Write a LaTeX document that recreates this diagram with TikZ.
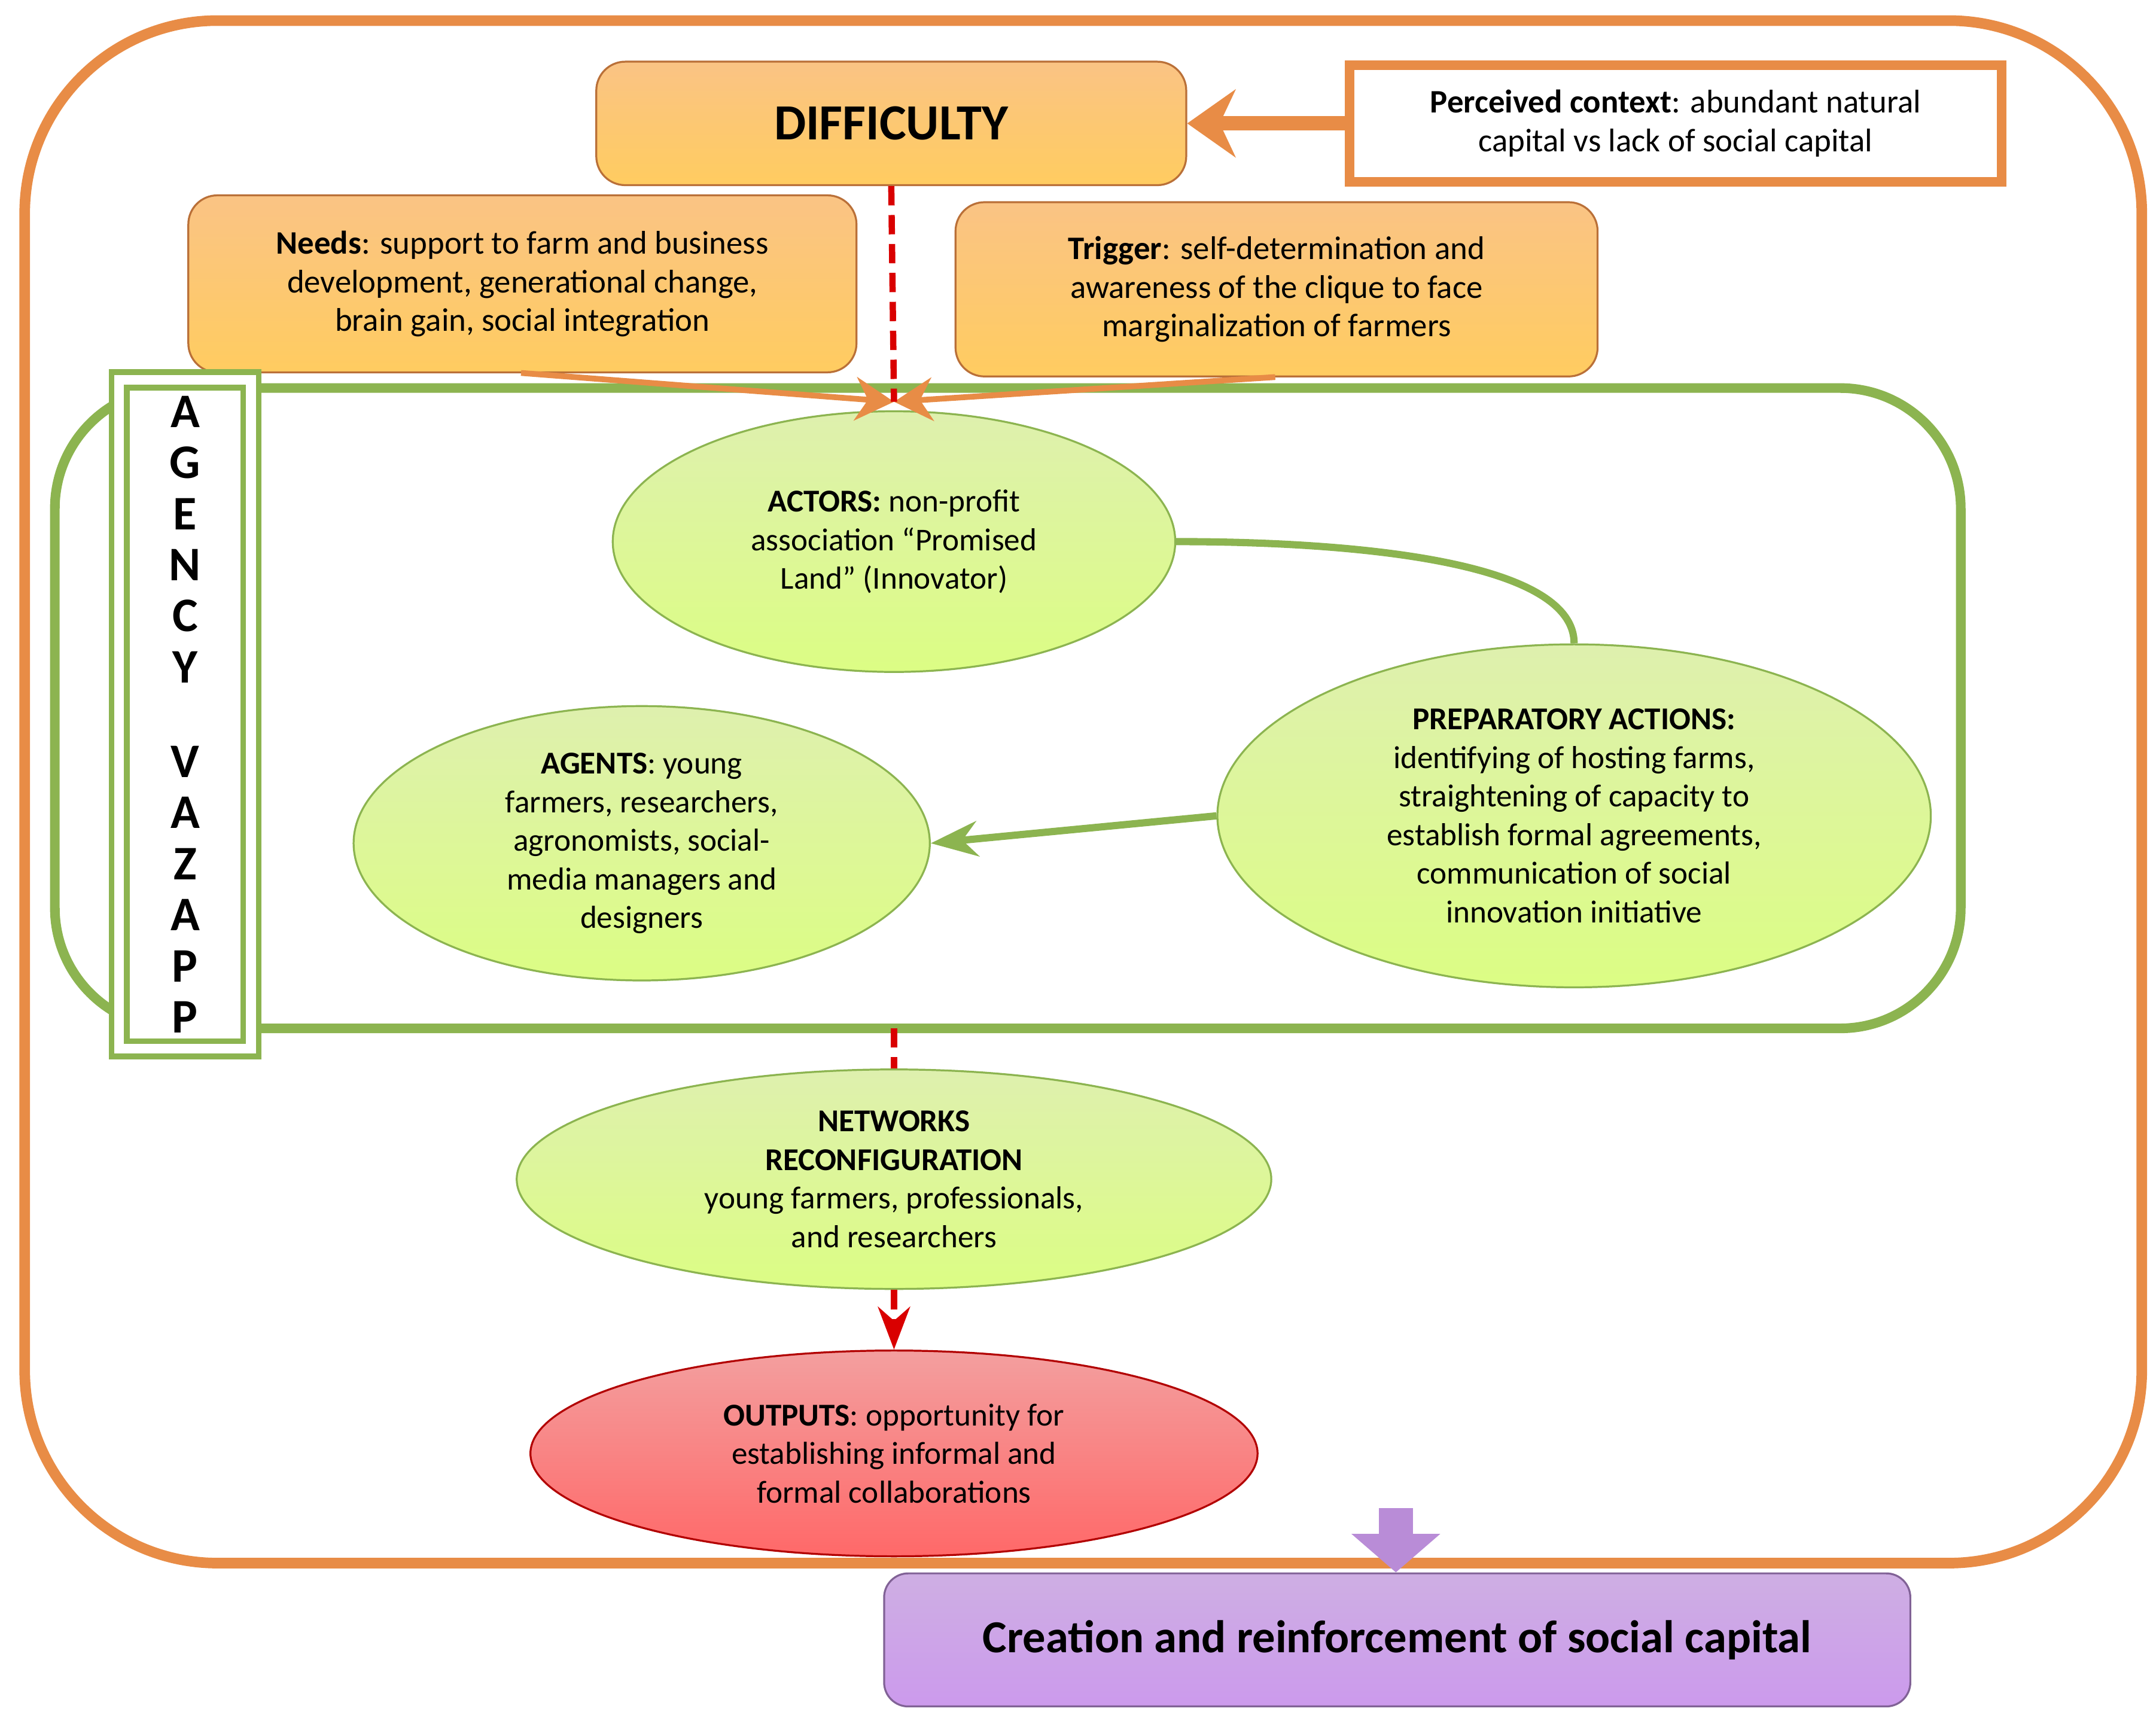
\documentclass[tikz,border=0pt]{standalone}
\usepackage{fontspec}
\setmainfont{Carlito}
\usepackage{xcolor}
\usetikzlibrary{shapes.geometric, arrows.meta, positioning, calc}
\definecolor{orfr}{RGB}{232,140,70}
\definecolor{orbg}{RGB}{248,170,80}
\definecolor{grfr}{RGB}{140,180,80}
\definecolor{grbg}{RGB}{200,230,120}
\definecolor{rdbg}{RGB}{235,95,95}
\definecolor{pubg}{RGB}{185,140,215}
\begin{document}
\begin{tikzpicture}[x=0.01cm, y=-0.01cm,
    box/.style={rectangle, rounded corners=6pt, draw=orfr!80!black, top color=orbg!70, bottom color=orbg!120!black, align=center, font=\fontsize{6.8}{8}\selectfont},
    blob/.style={ellipse, draw=grfr, top color=grbg!60, bottom color=grbg!110!black, align=center, inner sep=0pt, font=\fontsize{6.6}{8}\selectfont},
    redline/.style={red!85!black, line width=1.3pt, dash pattern=on 4pt off 2pt}
]
    \useasboundingbox (0,0) rectangle (1568,1266);
    \draw[orfr, line width=2.2pt, rounded corners=40pt] (18,15) rectangle (1562,1140);
    \draw[grfr, line width=2pt, rounded corners=25pt] (40,283) rectangle (1430,750);

    \node[box, minimum width=4.3cm, minimum height=0.9cm, font=\fontsize{10.5}{12}\selectfont\bfseries] (diff) at (650,90) {DIFFICULTY};
    \node[rectangle, draw=orfr, line width=2pt, fill=white, minimum width=4.75cm, minimum height=0.85cm, align=center, font=\fontsize{6.8}{8}\selectfont] (ctx) at (1222,90) {\textbf{Perceived context}: abundant natural\\capital vs lack of social capital};
    \node[box, minimum width=4.87cm, minimum height=1.29cm] (needs) at (381,207) {\textbf{Needs}: support to farm and business\\development, generational change,\\brain gain, social integration};
    \node[box, minimum width=4.68cm, minimum height=1.27cm] (trig) at (931,211) {\textbf{Trigger}: self-determination and\\awareness of the clique to face\\marginalization of farmers};
    \coordinate (meet) at (652,293);
    \coordinate (nfrom) at (380,272);
    \coordinate (tfrom) at (930,275);

    \node[rectangle, draw=grfr, double=white, double distance=2pt, line width=1.2pt, fill=white, minimum width=0.96cm, minimum height=4.3cm, align=center, font=\fontsize{10}{10.6}\selectfont\bfseries] (agency) at (135,521) {A\\G\\E\\N\\C\\Y\\[9pt]V\\A\\Z\\A\\P\\P};

    \node[blob, minimum width=4.1cm, minimum height=1.9cm] (actors) at (652,395) {\textbf{ACTORS:} non-profit\\association ``Promised\\Land'' (Innovator)};
    \node[blob, minimum width=5.2cm, minimum height=2.5cm] (prep) at (1148,595) {\textbf{PREPARATORY ACTIONS:}\\identifying of hosting farms,\\straightening of capacity to\\establish formal agreements,\\communication of social\\innovation initiative};
    \node[blob, minimum width=4.2cm, minimum height=2.0cm] (agents) at (468,615) {\textbf{AGENTS}: young\\farmers, researchers,\\agronomists, social-\\media managers and\\designers};
    \node[blob, minimum width=5.5cm, minimum height=1.6cm] (net) at (652,860) {\textbf{NETWORKS}\\\textbf{RECONFIGURATION}\\young farmers, professionals,\\and researchers};
    \node[ellipse, draw=red!70!black, top color=rdbg!60, bottom color=rdbg!110!black, align=center, inner sep=0pt, minimum width=5.3cm, minimum height=1.5cm, font=\fontsize{6.6}{8}\selectfont] (out) at (652,1060) {\textbf{OUTPUTS}: opportunity for\\establishing informal and\\formal collaborations};
    \node[rectangle, rounded corners=5pt, draw=pubg!70!black, top color=pubg!70, bottom color=pubg!110!black, minimum width=7.48cm, minimum height=0.97cm, font=\fontsize{9.5}{11}\selectfont\bfseries] (soc) at (1019,1196) {Creation and reinforcement of social capital};
    \coordinate (top) at (1018,1100);

    \draw[-{Stealth[length=10pt,width=14pt]}, orfr, line width=3pt] (ctx.west) -- (diff.east);
    \draw[-{Stealth[length=8pt,width=9pt]}, orfr, line width=1.2pt] (nfrom) -- (meet);
    \draw[-{Stealth[length=8pt,width=9pt]}, orfr, line width=1.2pt] (tfrom) -- (meet);
    \draw[redline] (diff.south) -- (meet);
    \draw[redline] (652,750) -- (net.north);
    \draw[redline, -{Stealth}] (net.south) -- (out.north);
    \draw[grfr, line width=1.5pt] (actors.east) to[out=0, in=90, looseness=0.6] (prep.north);
    \draw[-{Stealth}, grfr, line width=1.5pt] (prep.west) -- (agents.east);
    \draw[-{Triangle[length=8pt,width=18pt]}, draw=pubg, line width=7pt] (top) -- (top |- soc.north);
\end{tikzpicture}
\end{document}
